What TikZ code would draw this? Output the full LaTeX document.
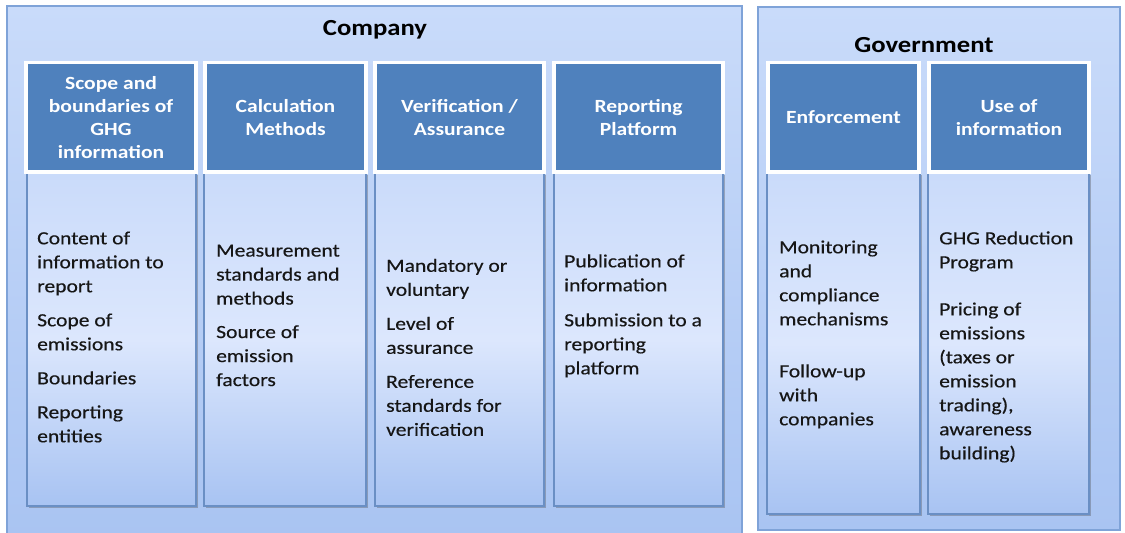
\documentclass[tikz,border=0pt]{standalone}
\usepackage{fontspec}
\setmainfont{Carlito}
\newfontfamily\bodyfont[FakeBold=0.35]{Carlito}
\usepackage{graphicx}
\usetikzlibrary{shadows}

\definecolor{panelTop}{HTML}{C9DBFA}
\definecolor{panelBot}{HTML}{A9C4F2}
\definecolor{panelLine}{HTML}{7FA3D8}
\definecolor{hdrBlue}{HTML}{4F81BD}
\definecolor{bodyTop}{HTML}{CADBFA}
\definecolor{bodyMid}{HTML}{DCE7FD}
\definecolor{bodyBot}{HTML}{A8C3F2}
\definecolor{bodyLine}{HTML}{6A8FC4}
\definecolor{ink}{HTML}{161616}

% text set slightly wide, as a column of lines
\newcommand\widetext[2]{\scalebox{1.16}[1]{\begin{tabular}{@{}#1@{}}#2\end{tabular}}}

\begin{document}
\begin{tikzpicture}[x=1pt,y=-1pt,
  panel/.style={rectangle, draw=panelLine, line width=1.2pt,
    top color=panelTop, bottom color=panelBot,
    anchor=north west, inner sep=0pt, outer sep=0pt},
  hdrbox/.style={rectangle, draw=white, line width=3.5pt, fill=hdrBlue,
    anchor=north west, inner sep=0pt, outer sep=0pt, text=white,
    font=\bfseries\fontsize{18.6}{23}\selectfont},
  hdrshadow/.style={drop shadow={shadow xshift=1.2pt, shadow yshift=-1.6pt, opacity=0.35, fill=black!70}},
  bodybox/.style={rectangle, draw=bodyLine, line width=1.4pt,
    top color=bodyTop, bottom color=bodyBot, middle color=bodyMid,
    anchor=north west, inner sep=0pt, outer sep=0pt,
    drop shadow={shadow xshift=1.5pt, shadow yshift=-1.8pt, opacity=0.35, fill=black!70}},
  bodytext/.style={anchor=west, inner sep=0pt, text=ink,
    font=\bodyfont\fontsize{18.6}{24}\selectfont},
  titletext/.style={inner sep=0pt, text=black,
    font=\bfseries\fontsize{23}{28}\selectfont},
]
\useasboundingbox (0,0) rectangle (1125,533);
\fill[white] (0,0) rectangle (1125,533);

% outer panels
\node[panel, minimum width=735pt, minimum height=532pt] (company) at (7,6) {};
\node[panel, minimum width=362pt, minimum height=523pt] (government) at (758,7) {};

\node[titletext] (companyTitle) at (375,29.5) {\widetext{c}{Company}};
\node[titletext] (governmentTitle) at (924,46.5) {\widetext{c}{Government}};

% column bodies
\node[bodybox, minimum width=169pt, minimum height=333pt] (b1) at (27,173) {};
\node[bodybox, minimum width=162pt, minimum height=333pt] (b2) at (204,173) {};
\node[bodybox, minimum width=169pt, minimum height=333pt] (b3) at (375,173) {};
\node[bodybox, minimum width=169pt, minimum height=333pt] (b4) at (554,173) {};
\node[bodybox, minimum width=153pt, minimum height=341pt] (b5) at (767,173) {};
\node[bodybox, minimum width=161pt, minimum height=341pt] (b6) at (928,173) {};

% column headers
\node[hdrbox, hdrshadow, minimum width=170pt, minimum height=109.5pt] (h1) at (26,62.5) {};
\node[hdrbox, hdrshadow, minimum width=161pt, minimum height=109.5pt] (h2) at (205,62.5) {};
\node[hdrbox, hdrshadow, minimum width=169pt, minimum height=109.5pt] (h3) at (375,62.5) {};
\node[hdrbox, hdrshadow, minimum width=169pt, minimum height=109.5pt] (h4) at (554,62.5) {};
\node[hdrbox, hdrshadow, minimum width=151pt, minimum height=109.5pt] (h5) at (768,62.5) {};
\node[hdrbox, hdrshadow, minimum width=160pt, minimum height=109.5pt] (h6) at (929,62.5) {};

% header labels, centred in their boxes
\begin{scope}[every node/.style={inner sep=0pt, text=white, font=\bfseries\fontsize{18.6}{23}\selectfont, yshift=-2pt}]
\node (l1) at (h1.center) {\widetext{c}{Scope and\\boundaries of\\GHG\\information}};
\node (l2) at (h2.center) {\widetext{c}{Calculation\\Methods}};
\node (l3) at (h3.center) {\widetext{c}{Verification /\\Assurance}};
\node (l4) at (h4.center) {\widetext{c}{Reporting\\Platform}};
\node (l5) at (h5.center) {\widetext{c}{Enforcement}};
\node (l6) at (h6.center) {\widetext{c}{Use of\\information}};
\end{scope}

% column contents
\node[bodytext] (t1) at (37,338.5)
  {\widetext{l}{Content of\\information to\\report\\[10pt]Scope of\\emissions\\[10pt]Boundaries\\[10pt]Reporting\\entities}};
\node[bodytext] (t2) at (216,316.5)
  {\widetext{l}{Measurement\\standards and\\methods\\[9.5pt]Source of\\emission\\factors}};
\node[bodytext] (t3) at (386,349)
  {\widetext{l}{Mandatory or\\voluntary\\[10pt]Level of\\assurance\\[10pt]Reference\\standards for\\verification}};
\node[bodytext] (t4) at (564,316)
  {\widetext{l}{Publication of\\information\\[11pt]Submission to a\\reporting\\platform}};
\node[bodytext] (t5) at (779,334.5)
  {\widetext{l}{Monitoring\\and\\compliance\\mechanisms\\[28pt]Follow-up\\with\\companies}};
\node[bodytext] (t6) at (939,347)
  {\widetext{l}{GHG Reduction\\Program\\[23pt]Pricing of\\emissions\\(taxes or\\emission\\trading),\\awareness\\building)}};
\end{tikzpicture}
\end{document}
